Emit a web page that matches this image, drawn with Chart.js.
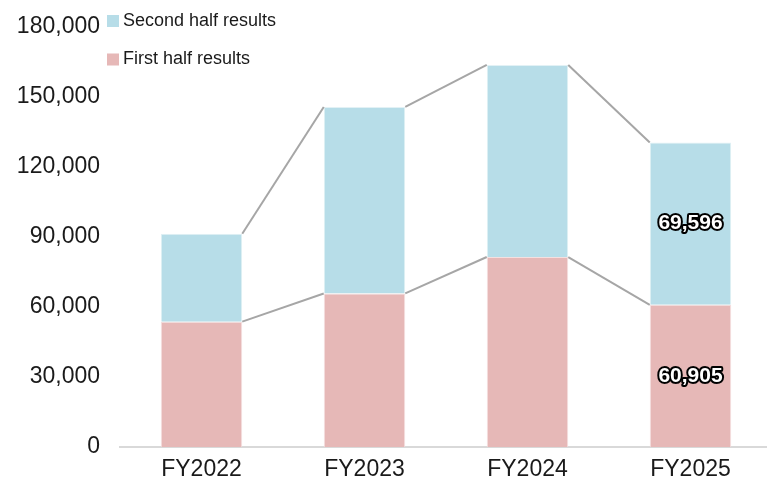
<!DOCTYPE html>
<html>
<head>
<meta charset="utf-8">
<script src="https://cdn.jsdelivr.net/npm/chart.js@4.4.1/dist/chart.umd.min.js"></script>
<style>
  body { margin: 0; background: #fff; overflow: hidden; }
</style>
</head>
<body>
<canvas id="resultsChart" width="772" height="487"></canvas>
<script>
// categories and values (FY2025 labelled)
var years = ['FY2022', 'FY2023', 'FY2024', 'FY2025'];
var firstHalf = [53700, 65800, 81400, 60905];
var secondHalf = [37700, 79900, 82300, 69596];
var labelledYears = ['FY2025'];
var yMax = 180000;
var yStep = 30000;

var firstColor = '#e6b8b7';
var secondColor = '#b7dde8';

// grey lines joining the tops of neighbouring bars
var seriesLines = {
  id: 'seriesLines',
  afterDatasetsDraw: function (chart) {
    var ctx = chart.ctx;
    ctx.save();
    ctx.strokeStyle = '#a6a6a6';
    ctx.lineWidth = 2;
    [0, 1].forEach(function (idx) {
      var bars = chart.getDatasetMeta(idx).data;
      for (var i = 0; i < bars.length - 1; i++) {
        var a = bars[i], b = bars[i + 1];
        ctx.beginPath();
        ctx.moveTo(a.x + a.width / 2, a.y);
        ctx.lineTo(b.x - b.width / 2, b.y);
        ctx.stroke();
      }
    });
    ctx.restore();
  }
};

// outlined value labels on the last bar only
var valueLabels = {
  id: 'valueLabels',
  afterDatasetsDraw: function (chart) {
    var ctx = chart.ctx;
    ctx.save();
    ctx.font = 'bold 21px "Liberation Sans", Arial, sans-serif';
    ctx.textAlign = 'center';
    ctx.textBaseline = 'middle';
    ctx.lineJoin = 'round';
    chart.data.datasets.forEach(function (ds, idx) {
      chart.getDatasetMeta(idx).data.forEach(function (bar, i) {
        if (labelledYears.indexOf(years[i]) < 0) return;
        var txt = ds.data[i].toLocaleString('en-US');
        var y = (bar.y + bar.base) / 2;
        ctx.lineWidth = 4;
        ctx.strokeStyle = '#000';
        ctx.strokeText(txt, bar.x, y);
        ctx.fillStyle = '#fff';
        ctx.fillText(txt, bar.x, y);
      });
    });
    ctx.restore();
  }
};

// legend stacked vertically inside the top left corner
var cornerLegend = {
  id: 'cornerLegend',
  afterDraw: function (chart) {
    var ctx = chart.ctx;
    var items = chart.data.datasets.slice().reverse();
    ctx.save();
    ctx.font = '18px "Liberation Sans", Arial, sans-serif';
    ctx.textBaseline = 'middle';
    items.forEach(function (ds, i) {
      var y = 21 + i * 38.5;
      ctx.fillStyle = ds.backgroundColor;
      ctx.fillRect(107, y - 6, 12, 12);
      ctx.fillStyle = '#1a1a1a';
      ctx.fillText(ds.label, 123, y);
    });
    ctx.restore();
  }
};

var ctx = document.getElementById('resultsChart').getContext('2d');
new Chart(ctx, {
  type: 'bar',
  data: {
    labels: years,
    datasets: [
      {
        label: 'First half results',
        data: firstHalf,
        backgroundColor: firstColor,
        borderColor: '#f4e0e0',
        borderWidth: 1,
        categoryPercentage: 1,
        barPercentage: 0.5
      },
      {
        label: 'Second half results',
        data: secondHalf,
        backgroundColor: secondColor,
        borderColor: '#e2f1f5',
        borderWidth: 1,
        categoryPercentage: 1,
        barPercentage: 0.5
      }
    ]
  },
  options: {
    responsive: false,
    animation: false,
    layout: { padding: { top: 23, right: 0, left: 0, bottom: 0 } },
    plugins: {
      legend: { display: false },
      tooltip: { enabled: false }
    },
    scales: {
      x: {
        stacked: true,
        grid: { display: false, drawTicks: false },
        border: { display: true, color: '#d9d9d9', width: 2 },
        ticks: {
          color: '#1a1a1a',
          padding: 9,
          font: { family: '"Liberation Sans", Arial, sans-serif', size: 23 }
        },
        afterFit: function (scale) { scale.height = 40; }
      },
      y: {
        stacked: true,
        min: 0,
        max: yMax,
        grid: { display: false, drawTicks: false },
        border: { display: false },
        ticks: {
          stepSize: yStep,
          color: '#1a1a1a',
          padding: 20,
          font: { family: '"Liberation Sans", Arial, sans-serif', size: 23, lineHeight: 0.6 },
          callback: function (v) { return v.toLocaleString('en-US'); }
        },
        afterFit: function (scale) { scale.width = 120; }
      }
    }
  },
  plugins: [seriesLines, valueLabels, cornerLegend]
});
</script>
</body>
</html>
